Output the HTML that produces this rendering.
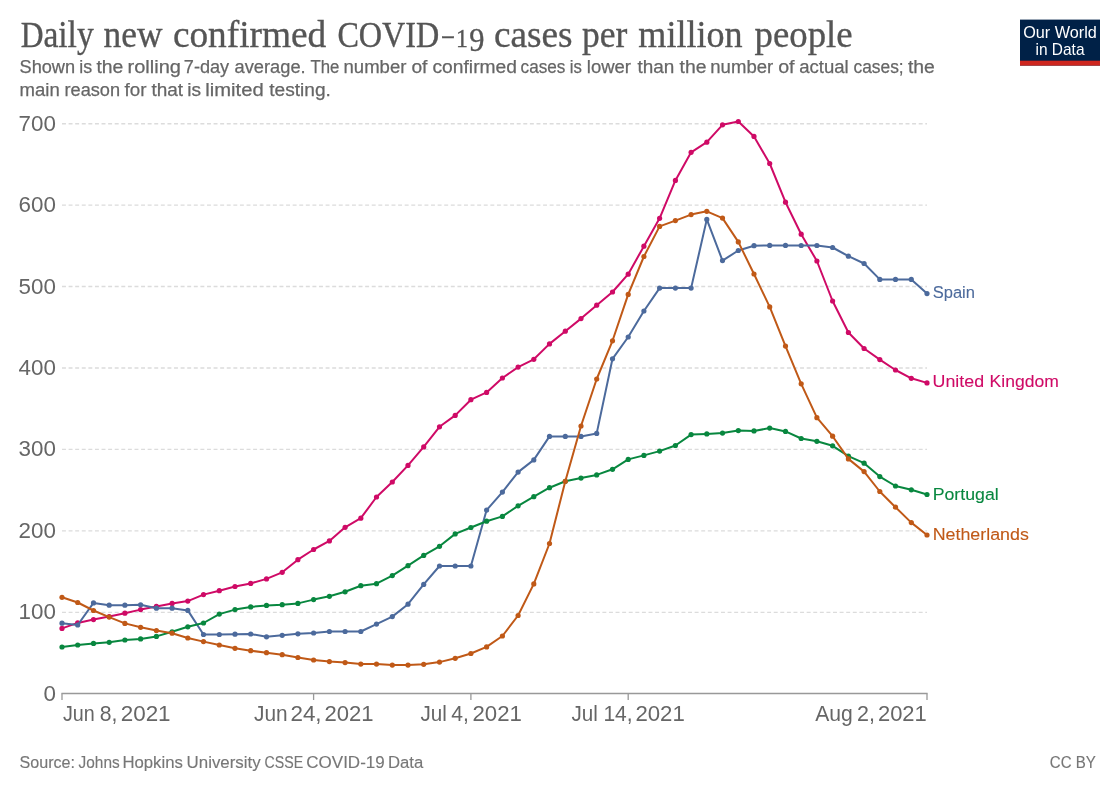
<!DOCTYPE html>
<html lang="en">
<head>
<meta charset="utf-8">
<title>Daily new confirmed COVID-19 cases per million people</title>
<style>
html,body{margin:0;padding:0;background:#fff;}
body{width:1120px;height:791px;overflow:hidden;}
svg{display:block;}
text{font-family:"Liberation Sans", "DejaVu Sans", sans-serif;}
.title{font-family:"Liberation Serif", "DejaVu Serif", serif;font-size:37.8px;fill:#555;stroke:#555;stroke-width:0.35px;}
.sub{font-size:18.9px;fill:#666;stroke:#666;stroke-width:0.25px;}
.tick{font-size:22.6px;fill:#666;}
.foot{font-size:16.8px;fill:#777;stroke:#777;stroke-width:0.15px;}
.lbl{font-size:17.1px;stroke-width:0.1px;}
.logo{font-size:16.6px;fill:#fff;}
</style>
</head>
<body>
<svg width="1120" height="791" viewBox="0 0 1120 791">
<rect x="0" y="0" width="1120" height="791" fill="#fff"/>

<text class="title" y="46.5"><tspan x="20.65" textLength="73.05" lengthAdjust="spacingAndGlyphs"><tspan font-size="35.5">D</tspan>aily</tspan> <tspan x="103.55" textLength="58.95" lengthAdjust="spacingAndGlyphs">new</tspan> <tspan x="172.90" textLength="153.30" lengthAdjust="spacingAndGlyphs">confirmed</tspan> <tspan x="337.40" font-size="35.5" textLength="101.90" lengthAdjust="spacingAndGlyphs">COVID</tspan><tspan x="440.70" font-size="22" y="42.1" textLength="14.40" lengthAdjust="spacingAndGlyphs">-</tspan><tspan x="455.90" font-size="25.7" y="46.5" textLength="11.90" lengthAdjust="spacingAndGlyphs">1</tspan><tspan x="469.30" font-size="33.3" y="51.2" textLength="15.20" lengthAdjust="spacingAndGlyphs">9</tspan> <tspan x="493.90" y="46.5" textLength="78.60" lengthAdjust="spacingAndGlyphs">cases</tspan> <tspan x="582.05" textLength="45.30" lengthAdjust="spacingAndGlyphs">per</tspan> <tspan x="638.30" textLength="104.30" lengthAdjust="spacingAndGlyphs">million</tspan> <tspan x="754.60" textLength="98.00" lengthAdjust="spacingAndGlyphs">people</tspan></text>
<text class="sub" y="73.2"><tspan x="19.50" textLength="55.60" lengthAdjust="spacingAndGlyphs">Shown</tspan> <tspan x="79.30" textLength="12.90" lengthAdjust="spacingAndGlyphs">is</tspan> <tspan x="96.40" textLength="26.90" lengthAdjust="spacingAndGlyphs">the</tspan> <tspan x="127.50" textLength="53.40" lengthAdjust="spacingAndGlyphs">rolling</tspan> <tspan x="183.80" textLength="45.40" lengthAdjust="spacingAndGlyphs">7-day</tspan> <tspan x="234.60" textLength="71.00" lengthAdjust="spacingAndGlyphs">average.</tspan> <tspan x="310.40" textLength="28.90" lengthAdjust="spacingAndGlyphs">The</tspan> <tspan x="343.50" textLength="62.90" lengthAdjust="spacingAndGlyphs">number</tspan> <tspan x="411.40" textLength="16.00" lengthAdjust="spacingAndGlyphs">of</tspan> <tspan x="432.50" textLength="84.50" lengthAdjust="spacingAndGlyphs">confirmed</tspan> <tspan x="520.60" textLength="44.80" lengthAdjust="spacingAndGlyphs">cases</tspan> <tspan x="569.80" textLength="12.10" lengthAdjust="spacingAndGlyphs">is</tspan> <tspan x="586.80" textLength="44.20" lengthAdjust="spacingAndGlyphs">lower</tspan> <tspan x="637.50" textLength="36.90" lengthAdjust="spacingAndGlyphs">than</tspan> <tspan x="679.60" textLength="26.90" lengthAdjust="spacingAndGlyphs">the</tspan> <tspan x="710.30" textLength="62.90" lengthAdjust="spacingAndGlyphs">number</tspan> <tspan x="778.20" textLength="16.40" lengthAdjust="spacingAndGlyphs">of</tspan> <tspan x="799.20" textLength="49.50" lengthAdjust="spacingAndGlyphs">actual</tspan> <tspan x="853.50" textLength="50.20" lengthAdjust="spacingAndGlyphs">cases;</tspan> <tspan x="907.90" textLength="26.90" lengthAdjust="spacingAndGlyphs">the</tspan></text>
<text class="sub" y="96.1"><tspan x="19.50" textLength="40.20" lengthAdjust="spacingAndGlyphs">main</tspan> <tspan x="64.50" textLength="55.60" lengthAdjust="spacingAndGlyphs">reason</tspan> <tspan x="124.60" textLength="21.90" lengthAdjust="spacingAndGlyphs">for</tspan> <tspan x="151.40" textLength="31.70" lengthAdjust="spacingAndGlyphs">that</tspan> <tspan x="187.30" textLength="13.80" lengthAdjust="spacingAndGlyphs">is</tspan> <tspan x="205.30" textLength="58.40" lengthAdjust="spacingAndGlyphs">limited</tspan> <tspan x="269.30" textLength="61.60" lengthAdjust="spacingAndGlyphs">testing.</tspan></text>
<g><rect x="1020" y="19.6" width="80" height="46" fill="#002147"/><rect x="1020" y="60.7" width="80" height="4.9" fill="#ce261e"/>
<text class="logo" x="1060" y="38.0" text-anchor="middle" textLength="73.6" lengthAdjust="spacingAndGlyphs">Our World</text>
<text class="logo" x="1060" y="55.3" text-anchor="middle" textLength="49.0" lengthAdjust="spacingAndGlyphs">in Data</text></g>
<line x1="62" x2="927" y1="612.3" y2="612.3" stroke="#dcdcdc" stroke-width="1.35" stroke-dasharray="3.95,2.64"/>
<line x1="62" x2="927" y1="530.8" y2="530.8" stroke="#dcdcdc" stroke-width="1.35" stroke-dasharray="3.95,2.64"/>
<line x1="62" x2="927" y1="449.4" y2="449.4" stroke="#dcdcdc" stroke-width="1.35" stroke-dasharray="3.95,2.64"/>
<line x1="62" x2="927" y1="368.0" y2="368.0" stroke="#dcdcdc" stroke-width="1.35" stroke-dasharray="3.95,2.64"/>
<line x1="62" x2="927" y1="286.5" y2="286.5" stroke="#dcdcdc" stroke-width="1.35" stroke-dasharray="3.95,2.64"/>
<line x1="62" x2="927" y1="205.1" y2="205.1" stroke="#dcdcdc" stroke-width="1.35" stroke-dasharray="3.95,2.64"/>
<line x1="62" x2="927" y1="123.7" y2="123.7" stroke="#dcdcdc" stroke-width="1.35" stroke-dasharray="3.95,2.64"/>
<text class="tick" x="43.45" y="700.7" textLength="12.45" lengthAdjust="spacingAndGlyphs">0</text>
<text class="tick" x="18.55" y="619.3" textLength="37.35" lengthAdjust="spacingAndGlyphs">100</text>
<text class="tick" x="18.55" y="537.8" textLength="37.35" lengthAdjust="spacingAndGlyphs">200</text>
<text class="tick" x="18.55" y="456.4" textLength="37.35" lengthAdjust="spacingAndGlyphs">300</text>
<text class="tick" x="18.55" y="375.0" textLength="37.35" lengthAdjust="spacingAndGlyphs">400</text>
<text class="tick" x="18.55" y="293.5" textLength="37.35" lengthAdjust="spacingAndGlyphs">500</text>
<text class="tick" x="18.55" y="212.1" textLength="37.35" lengthAdjust="spacingAndGlyphs">600</text>
<text class="tick" x="18.55" y="130.7" textLength="37.35" lengthAdjust="spacingAndGlyphs">700</text>
<g stroke="#999" stroke-width="1.3" fill="none"><line x1="61.4" x2="927.6" y1="693.5" y2="693.5"/>
<line x1="62.0" x2="62.0" y1="693.5" y2="700"/>
<line x1="313.6" x2="313.6" y1="693.5" y2="700"/>
<line x1="470.9" x2="470.9" y1="693.5" y2="700"/>
<line x1="628.2" x2="628.2" y1="693.5" y2="700"/>
<line x1="927.0" x2="927.0" y1="693.5" y2="700"/>
</g>
<text class="tick" y="721.4"><tspan x="63.00" textLength="31.80" lengthAdjust="spacingAndGlyphs">Jun</tspan> <tspan x="99.70" textLength="17.66" lengthAdjust="spacingAndGlyphs">8,</tspan> <tspan x="120.70" textLength="49.88" lengthAdjust="spacingAndGlyphs">2021</tspan></text>
<text class="tick" y="721.4"><tspan x="253.98" textLength="33.62" lengthAdjust="spacingAndGlyphs">Jun</tspan> <tspan x="290.42" textLength="31.18" lengthAdjust="spacingAndGlyphs">24,</tspan> <tspan x="324.44" textLength="49.10" lengthAdjust="spacingAndGlyphs">2021</tspan></text>
<text class="tick" y="721.4"><tspan x="420.46" textLength="26.38" lengthAdjust="spacingAndGlyphs">Jul</tspan> <tspan x="451.24" textLength="17.60" lengthAdjust="spacingAndGlyphs">4,</tspan> <tspan x="472.46" textLength="49.36" lengthAdjust="spacingAndGlyphs">2021</tspan></text>
<text class="tick" y="721.4"><tspan x="571.46" textLength="26.38" lengthAdjust="spacingAndGlyphs">Jul</tspan> <tspan x="603.40" textLength="29.22" lengthAdjust="spacingAndGlyphs">14,</tspan> <tspan x="635.44" textLength="49.36" lengthAdjust="spacingAndGlyphs">2021</tspan></text>
<text class="tick" y="721.4"><tspan x="815.22" textLength="37.62" lengthAdjust="spacingAndGlyphs">Aug</tspan> <tspan x="856.96" textLength="17.90" lengthAdjust="spacingAndGlyphs">2,</tspan> <tspan x="877.96" textLength="48.84" lengthAdjust="spacingAndGlyphs">2021</tspan></text>
<g fill="#cf0a66" stroke="none">
<polyline points="62.0,628.4 77.7,622.9 93.5,619.6 109.2,616.6 124.9,613.2 140.6,609.6 156.4,606.4 172.1,603.4 187.8,601.1 203.5,594.6 219.3,590.7 235.0,586.5 250.7,583.4 266.5,578.9 282.2,572.3 297.9,559.7 313.6,549.5 329.4,540.9 345.1,527.3 360.8,518.2 376.5,497.0 392.3,482.0 408.0,465.4 423.7,446.9 439.5,426.8 455.2,415.4 470.9,399.7 486.6,392.4 502.4,378.0 518.1,367.1 533.8,359.3 549.5,343.9 565.3,331.2 581.0,318.6 596.7,305.2 612.5,292.0 628.2,274.2 643.9,246.2 659.6,218.3 675.4,180.4 691.1,152.3 706.8,142.2 722.5,124.8 738.3,121.5 754.0,136.4 769.7,163.5 785.5,202.2 801.2,234.2 816.9,261.0 832.6,301.0 848.4,332.5 864.1,348.5 879.8,359.6 895.5,370.0 911.3,378.3 927.0,382.9" fill="none" stroke="#cf0a66" stroke-width="2" stroke-linejoin="round" stroke-linecap="round"/>
<circle cx="62.0" cy="628.4" r="2.6"/>
<circle cx="77.7" cy="622.9" r="2.6"/>
<circle cx="93.5" cy="619.6" r="2.6"/>
<circle cx="109.2" cy="616.6" r="2.6"/>
<circle cx="124.9" cy="613.2" r="2.6"/>
<circle cx="140.6" cy="609.6" r="2.6"/>
<circle cx="156.4" cy="606.4" r="2.6"/>
<circle cx="172.1" cy="603.4" r="2.6"/>
<circle cx="187.8" cy="601.1" r="2.6"/>
<circle cx="203.5" cy="594.6" r="2.6"/>
<circle cx="219.3" cy="590.7" r="2.6"/>
<circle cx="235.0" cy="586.5" r="2.6"/>
<circle cx="250.7" cy="583.4" r="2.6"/>
<circle cx="266.5" cy="578.9" r="2.6"/>
<circle cx="282.2" cy="572.3" r="2.6"/>
<circle cx="297.9" cy="559.7" r="2.6"/>
<circle cx="313.6" cy="549.5" r="2.6"/>
<circle cx="329.4" cy="540.9" r="2.6"/>
<circle cx="345.1" cy="527.3" r="2.6"/>
<circle cx="360.8" cy="518.2" r="2.6"/>
<circle cx="376.5" cy="497.0" r="2.6"/>
<circle cx="392.3" cy="482.0" r="2.6"/>
<circle cx="408.0" cy="465.4" r="2.6"/>
<circle cx="423.7" cy="446.9" r="2.6"/>
<circle cx="439.5" cy="426.8" r="2.6"/>
<circle cx="455.2" cy="415.4" r="2.6"/>
<circle cx="470.9" cy="399.7" r="2.6"/>
<circle cx="486.6" cy="392.4" r="2.6"/>
<circle cx="502.4" cy="378.0" r="2.6"/>
<circle cx="518.1" cy="367.1" r="2.6"/>
<circle cx="533.8" cy="359.3" r="2.6"/>
<circle cx="549.5" cy="343.9" r="2.6"/>
<circle cx="565.3" cy="331.2" r="2.6"/>
<circle cx="581.0" cy="318.6" r="2.6"/>
<circle cx="596.7" cy="305.2" r="2.6"/>
<circle cx="612.5" cy="292.0" r="2.6"/>
<circle cx="628.2" cy="274.2" r="2.6"/>
<circle cx="643.9" cy="246.2" r="2.6"/>
<circle cx="659.6" cy="218.3" r="2.6"/>
<circle cx="675.4" cy="180.4" r="2.6"/>
<circle cx="691.1" cy="152.3" r="2.6"/>
<circle cx="706.8" cy="142.2" r="2.6"/>
<circle cx="722.5" cy="124.8" r="2.6"/>
<circle cx="738.3" cy="121.5" r="2.6"/>
<circle cx="754.0" cy="136.4" r="2.6"/>
<circle cx="769.7" cy="163.5" r="2.6"/>
<circle cx="785.5" cy="202.2" r="2.6"/>
<circle cx="801.2" cy="234.2" r="2.6"/>
<circle cx="816.9" cy="261.0" r="2.6"/>
<circle cx="832.6" cy="301.0" r="2.6"/>
<circle cx="848.4" cy="332.5" r="2.6"/>
<circle cx="864.1" cy="348.5" r="2.6"/>
<circle cx="879.8" cy="359.6" r="2.6"/>
<circle cx="895.5" cy="370.0" r="2.6"/>
<circle cx="911.3" cy="378.3" r="2.6"/>
<circle cx="927.0" cy="382.9" r="2.6"/>
</g>
<g fill="#4c6a9c" stroke="none">
<polyline points="62.0,623.2 77.7,625.0 93.5,602.9 109.2,605.2 124.9,605.2 140.6,604.8 156.4,608.2 172.1,608.2 187.8,610.4 203.5,634.5 219.3,634.5 235.0,634.2 250.7,634.0 266.5,636.8 282.2,635.3 297.9,633.8 313.6,633.0 329.4,631.5 345.1,631.5 360.8,631.5 376.5,624.1 392.3,616.6 408.0,604.2 423.7,584.4 439.5,566.0 455.2,566.0 470.9,566.0 486.6,510.1 502.4,492.1 518.1,472.1 533.8,459.9 549.5,436.4 565.3,436.4 581.0,436.4 596.7,433.4 612.5,358.8 628.2,337.0 643.9,311.0 659.6,288.1 675.4,288.1 691.1,288.1 706.8,219.4 722.5,260.6 738.3,250.5 754.0,245.7 769.7,245.4 785.5,245.4 801.2,245.5 816.9,245.5 832.6,247.5 848.4,256.2 864.1,263.5 879.8,279.4 895.5,279.4 911.3,279.4 927.0,293.6" fill="none" stroke="#4c6a9c" stroke-width="2" stroke-linejoin="round" stroke-linecap="round"/>
<circle cx="62.0" cy="623.2" r="2.6"/>
<circle cx="77.7" cy="625.0" r="2.6"/>
<circle cx="93.5" cy="602.9" r="2.6"/>
<circle cx="109.2" cy="605.2" r="2.6"/>
<circle cx="124.9" cy="605.2" r="2.6"/>
<circle cx="140.6" cy="604.8" r="2.6"/>
<circle cx="156.4" cy="608.2" r="2.6"/>
<circle cx="172.1" cy="608.2" r="2.6"/>
<circle cx="187.8" cy="610.4" r="2.6"/>
<circle cx="203.5" cy="634.5" r="2.6"/>
<circle cx="219.3" cy="634.5" r="2.6"/>
<circle cx="235.0" cy="634.2" r="2.6"/>
<circle cx="250.7" cy="634.0" r="2.6"/>
<circle cx="266.5" cy="636.8" r="2.6"/>
<circle cx="282.2" cy="635.3" r="2.6"/>
<circle cx="297.9" cy="633.8" r="2.6"/>
<circle cx="313.6" cy="633.0" r="2.6"/>
<circle cx="329.4" cy="631.5" r="2.6"/>
<circle cx="345.1" cy="631.5" r="2.6"/>
<circle cx="360.8" cy="631.5" r="2.6"/>
<circle cx="376.5" cy="624.1" r="2.6"/>
<circle cx="392.3" cy="616.6" r="2.6"/>
<circle cx="408.0" cy="604.2" r="2.6"/>
<circle cx="423.7" cy="584.4" r="2.6"/>
<circle cx="439.5" cy="566.0" r="2.6"/>
<circle cx="455.2" cy="566.0" r="2.6"/>
<circle cx="470.9" cy="566.0" r="2.6"/>
<circle cx="486.6" cy="510.1" r="2.6"/>
<circle cx="502.4" cy="492.1" r="2.6"/>
<circle cx="518.1" cy="472.1" r="2.6"/>
<circle cx="533.8" cy="459.9" r="2.6"/>
<circle cx="549.5" cy="436.4" r="2.6"/>
<circle cx="565.3" cy="436.4" r="2.6"/>
<circle cx="581.0" cy="436.4" r="2.6"/>
<circle cx="596.7" cy="433.4" r="2.6"/>
<circle cx="612.5" cy="358.8" r="2.6"/>
<circle cx="628.2" cy="337.0" r="2.6"/>
<circle cx="643.9" cy="311.0" r="2.6"/>
<circle cx="659.6" cy="288.1" r="2.6"/>
<circle cx="675.4" cy="288.1" r="2.6"/>
<circle cx="691.1" cy="288.1" r="2.6"/>
<circle cx="706.8" cy="219.4" r="2.6"/>
<circle cx="722.5" cy="260.6" r="2.6"/>
<circle cx="738.3" cy="250.5" r="2.6"/>
<circle cx="754.0" cy="245.7" r="2.6"/>
<circle cx="769.7" cy="245.4" r="2.6"/>
<circle cx="785.5" cy="245.4" r="2.6"/>
<circle cx="801.2" cy="245.5" r="2.6"/>
<circle cx="816.9" cy="245.5" r="2.6"/>
<circle cx="832.6" cy="247.5" r="2.6"/>
<circle cx="848.4" cy="256.2" r="2.6"/>
<circle cx="864.1" cy="263.5" r="2.6"/>
<circle cx="879.8" cy="279.4" r="2.6"/>
<circle cx="895.5" cy="279.4" r="2.6"/>
<circle cx="911.3" cy="279.4" r="2.6"/>
<circle cx="927.0" cy="293.6" r="2.6"/>
</g>
<g fill="#08873f" stroke="none">
<polyline points="62.0,647.0 77.7,645.0 93.5,643.4 109.2,642.3 124.9,640.0 140.6,638.9 156.4,636.4 172.1,631.8 187.8,626.8 203.5,623.0 219.3,614.1 235.0,609.6 250.7,606.9 266.5,605.4 282.2,604.7 297.9,603.4 313.6,599.6 329.4,596.3 345.1,591.8 360.8,585.7 376.5,583.7 392.3,575.6 408.0,565.7 423.7,555.4 439.5,546.3 455.2,533.9 470.9,527.5 486.6,521.2 502.4,516.4 518.1,505.8 533.8,496.7 549.5,487.7 565.3,481.3 581.0,478.1 596.7,474.9 612.5,469.3 628.2,459.4 643.9,455.4 659.6,451.1 675.4,445.5 691.1,434.6 706.8,433.9 722.5,433.1 738.3,430.6 754.0,430.9 769.7,428.1 785.5,431.4 801.2,438.5 816.9,441.3 832.6,445.8 848.4,456.1 864.1,463.2 879.8,476.6 895.5,486.0 911.3,489.8 927.0,494.5" fill="none" stroke="#08873f" stroke-width="2" stroke-linejoin="round" stroke-linecap="round"/>
<circle cx="62.0" cy="647.0" r="2.6"/>
<circle cx="77.7" cy="645.0" r="2.6"/>
<circle cx="93.5" cy="643.4" r="2.6"/>
<circle cx="109.2" cy="642.3" r="2.6"/>
<circle cx="124.9" cy="640.0" r="2.6"/>
<circle cx="140.6" cy="638.9" r="2.6"/>
<circle cx="156.4" cy="636.4" r="2.6"/>
<circle cx="172.1" cy="631.8" r="2.6"/>
<circle cx="187.8" cy="626.8" r="2.6"/>
<circle cx="203.5" cy="623.0" r="2.6"/>
<circle cx="219.3" cy="614.1" r="2.6"/>
<circle cx="235.0" cy="609.6" r="2.6"/>
<circle cx="250.7" cy="606.9" r="2.6"/>
<circle cx="266.5" cy="605.4" r="2.6"/>
<circle cx="282.2" cy="604.7" r="2.6"/>
<circle cx="297.9" cy="603.4" r="2.6"/>
<circle cx="313.6" cy="599.6" r="2.6"/>
<circle cx="329.4" cy="596.3" r="2.6"/>
<circle cx="345.1" cy="591.8" r="2.6"/>
<circle cx="360.8" cy="585.7" r="2.6"/>
<circle cx="376.5" cy="583.7" r="2.6"/>
<circle cx="392.3" cy="575.6" r="2.6"/>
<circle cx="408.0" cy="565.7" r="2.6"/>
<circle cx="423.7" cy="555.4" r="2.6"/>
<circle cx="439.5" cy="546.3" r="2.6"/>
<circle cx="455.2" cy="533.9" r="2.6"/>
<circle cx="470.9" cy="527.5" r="2.6"/>
<circle cx="486.6" cy="521.2" r="2.6"/>
<circle cx="502.4" cy="516.4" r="2.6"/>
<circle cx="518.1" cy="505.8" r="2.6"/>
<circle cx="533.8" cy="496.7" r="2.6"/>
<circle cx="549.5" cy="487.7" r="2.6"/>
<circle cx="565.3" cy="481.3" r="2.6"/>
<circle cx="581.0" cy="478.1" r="2.6"/>
<circle cx="596.7" cy="474.9" r="2.6"/>
<circle cx="612.5" cy="469.3" r="2.6"/>
<circle cx="628.2" cy="459.4" r="2.6"/>
<circle cx="643.9" cy="455.4" r="2.6"/>
<circle cx="659.6" cy="451.1" r="2.6"/>
<circle cx="675.4" cy="445.5" r="2.6"/>
<circle cx="691.1" cy="434.6" r="2.6"/>
<circle cx="706.8" cy="433.9" r="2.6"/>
<circle cx="722.5" cy="433.1" r="2.6"/>
<circle cx="738.3" cy="430.6" r="2.6"/>
<circle cx="754.0" cy="430.9" r="2.6"/>
<circle cx="769.7" cy="428.1" r="2.6"/>
<circle cx="785.5" cy="431.4" r="2.6"/>
<circle cx="801.2" cy="438.5" r="2.6"/>
<circle cx="816.9" cy="441.3" r="2.6"/>
<circle cx="832.6" cy="445.8" r="2.6"/>
<circle cx="848.4" cy="456.1" r="2.6"/>
<circle cx="864.1" cy="463.2" r="2.6"/>
<circle cx="879.8" cy="476.6" r="2.6"/>
<circle cx="895.5" cy="486.0" r="2.6"/>
<circle cx="911.3" cy="489.8" r="2.6"/>
<circle cx="927.0" cy="494.5" r="2.6"/>
</g>
<g fill="#c05917" stroke="none">
<polyline points="62.0,597.3 77.7,602.5 93.5,610.5 109.2,617.1 124.9,623.4 140.6,627.3 156.4,630.5 172.1,633.2 187.8,638.0 203.5,641.6 219.3,645.0 235.0,648.3 250.7,650.7 266.5,652.7 282.2,654.7 297.9,657.5 313.6,660.0 329.4,661.6 345.1,662.6 360.8,664.1 376.5,664.1 392.3,665.1 408.0,665.1 423.7,664.3 439.5,662.1 455.2,658.3 470.9,653.5 486.6,646.9 502.4,636.0 518.1,615.5 533.8,583.9 549.5,543.5 565.3,481.3 581.0,426.0 596.7,379.0 612.5,340.8 628.2,294.4 643.9,256.5 659.6,226.4 675.4,220.6 691.1,214.6 706.8,211.3 722.5,218.1 738.3,241.9 754.0,274.0 769.7,306.9 785.5,346.1 801.2,383.8 816.9,417.7 832.6,436.2 848.4,458.9 864.1,471.6 879.8,491.5 895.5,507.2 911.3,522.6 927.0,535.0" fill="none" stroke="#c05917" stroke-width="2" stroke-linejoin="round" stroke-linecap="round"/>
<circle cx="62.0" cy="597.3" r="2.6"/>
<circle cx="77.7" cy="602.5" r="2.6"/>
<circle cx="93.5" cy="610.5" r="2.6"/>
<circle cx="109.2" cy="617.1" r="2.6"/>
<circle cx="124.9" cy="623.4" r="2.6"/>
<circle cx="140.6" cy="627.3" r="2.6"/>
<circle cx="156.4" cy="630.5" r="2.6"/>
<circle cx="172.1" cy="633.2" r="2.6"/>
<circle cx="187.8" cy="638.0" r="2.6"/>
<circle cx="203.5" cy="641.6" r="2.6"/>
<circle cx="219.3" cy="645.0" r="2.6"/>
<circle cx="235.0" cy="648.3" r="2.6"/>
<circle cx="250.7" cy="650.7" r="2.6"/>
<circle cx="266.5" cy="652.7" r="2.6"/>
<circle cx="282.2" cy="654.7" r="2.6"/>
<circle cx="297.9" cy="657.5" r="2.6"/>
<circle cx="313.6" cy="660.0" r="2.6"/>
<circle cx="329.4" cy="661.6" r="2.6"/>
<circle cx="345.1" cy="662.6" r="2.6"/>
<circle cx="360.8" cy="664.1" r="2.6"/>
<circle cx="376.5" cy="664.1" r="2.6"/>
<circle cx="392.3" cy="665.1" r="2.6"/>
<circle cx="408.0" cy="665.1" r="2.6"/>
<circle cx="423.7" cy="664.3" r="2.6"/>
<circle cx="439.5" cy="662.1" r="2.6"/>
<circle cx="455.2" cy="658.3" r="2.6"/>
<circle cx="470.9" cy="653.5" r="2.6"/>
<circle cx="486.6" cy="646.9" r="2.6"/>
<circle cx="502.4" cy="636.0" r="2.6"/>
<circle cx="518.1" cy="615.5" r="2.6"/>
<circle cx="533.8" cy="583.9" r="2.6"/>
<circle cx="549.5" cy="543.5" r="2.6"/>
<circle cx="565.3" cy="481.3" r="2.6"/>
<circle cx="581.0" cy="426.0" r="2.6"/>
<circle cx="596.7" cy="379.0" r="2.6"/>
<circle cx="612.5" cy="340.8" r="2.6"/>
<circle cx="628.2" cy="294.4" r="2.6"/>
<circle cx="643.9" cy="256.5" r="2.6"/>
<circle cx="659.6" cy="226.4" r="2.6"/>
<circle cx="675.4" cy="220.6" r="2.6"/>
<circle cx="691.1" cy="214.6" r="2.6"/>
<circle cx="706.8" cy="211.3" r="2.6"/>
<circle cx="722.5" cy="218.1" r="2.6"/>
<circle cx="738.3" cy="241.9" r="2.6"/>
<circle cx="754.0" cy="274.0" r="2.6"/>
<circle cx="769.7" cy="306.9" r="2.6"/>
<circle cx="785.5" cy="346.1" r="2.6"/>
<circle cx="801.2" cy="383.8" r="2.6"/>
<circle cx="816.9" cy="417.7" r="2.6"/>
<circle cx="832.6" cy="436.2" r="2.6"/>
<circle cx="848.4" cy="458.9" r="2.6"/>
<circle cx="864.1" cy="471.6" r="2.6"/>
<circle cx="879.8" cy="491.5" r="2.6"/>
<circle cx="895.5" cy="507.2" r="2.6"/>
<circle cx="911.3" cy="522.6" r="2.6"/>
<circle cx="927.0" cy="535.0" r="2.6"/>
</g>
<text class="lbl" x="932.7" y="298.4" fill="#4c6a9c" stroke="#4c6a9c" textLength="42.3" lengthAdjust="spacingAndGlyphs">Spain</text>
<text class="lbl" y="387.3" fill="#cf0a66" stroke="#cf0a66"><tspan x="932.6" textLength="51.5" lengthAdjust="spacingAndGlyphs">United</tspan> <tspan x="989.6" textLength="69.2" lengthAdjust="spacingAndGlyphs">Kingdom</tspan></text>
<text class="lbl" x="932.7" y="499.6" fill="#08873f" stroke="#08873f" textLength="66" lengthAdjust="spacingAndGlyphs">Portugal</text>
<text class="lbl" x="932.7" y="539.7" fill="#c05917" stroke="#c05917" textLength="96.2" lengthAdjust="spacingAndGlyphs">Netherlands</text>
<text class="foot" y="768.2"><tspan x="19.50" textLength="55.50" lengthAdjust="spacingAndGlyphs">Source:</tspan> <tspan x="78.60" textLength="41.10" lengthAdjust="spacingAndGlyphs">Johns</tspan> <tspan x="122.40" textLength="60.50" lengthAdjust="spacingAndGlyphs">Hopkins</tspan> <tspan x="186.60" textLength="74.00" lengthAdjust="spacingAndGlyphs">University</tspan> <tspan x="264.60" textLength="38.60" lengthAdjust="spacingAndGlyphs">CSSE</tspan> <tspan x="306.30" textLength="78.40" lengthAdjust="spacingAndGlyphs">COVID-19</tspan> <tspan x="388.00" textLength="35.30" lengthAdjust="spacingAndGlyphs">Data</tspan></text>
<text class="foot" x="1049.8" y="767.8" textLength="46.1" lengthAdjust="spacingAndGlyphs">CC BY</text>
</svg>
</body>
</html>
